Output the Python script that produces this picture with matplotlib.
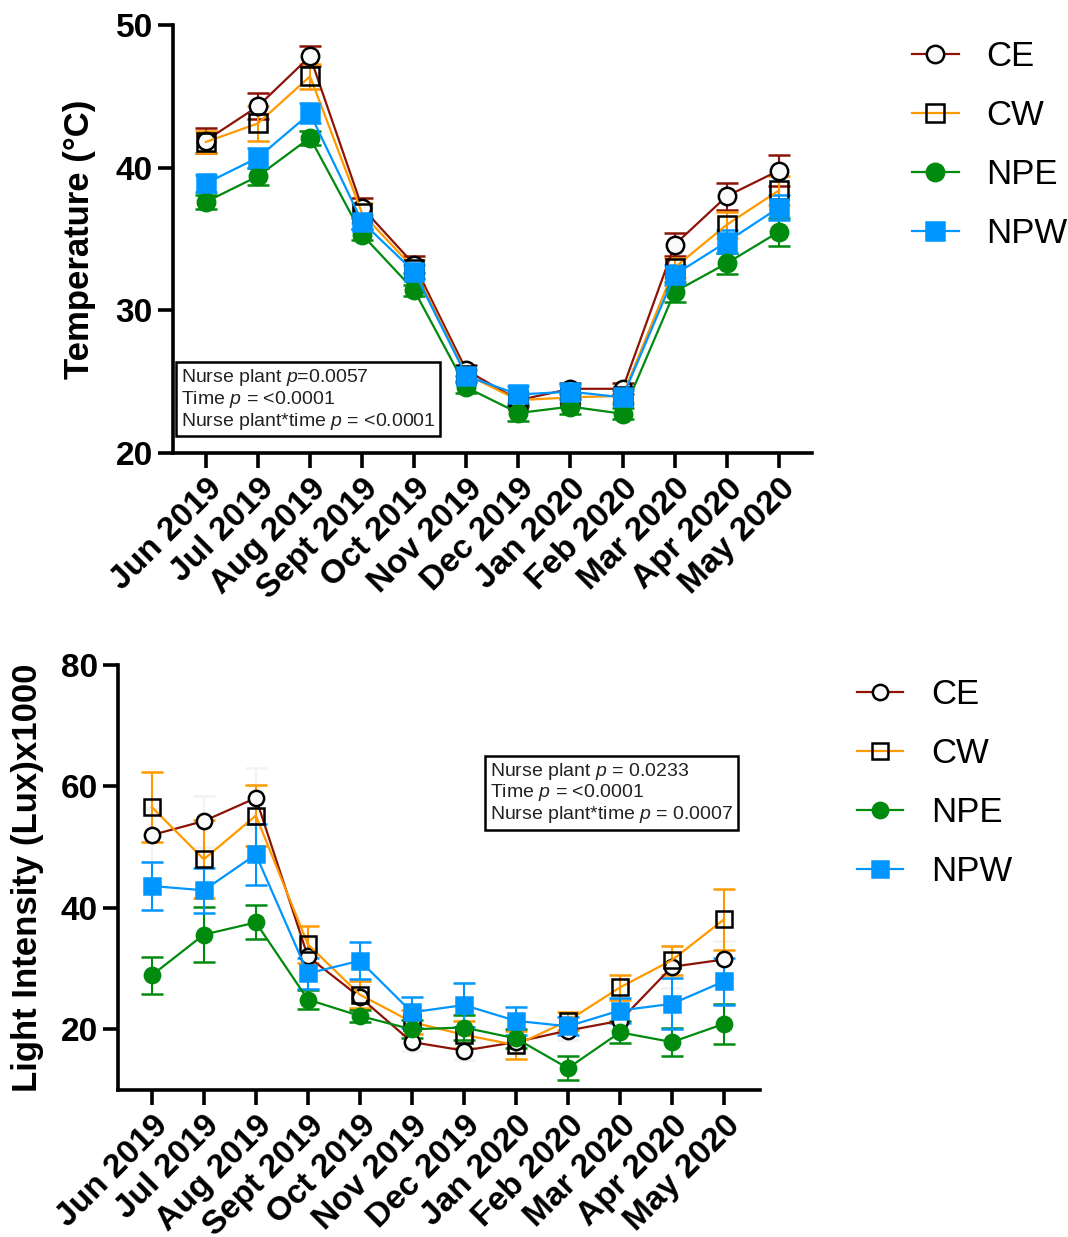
import matplotlib
matplotlib.use('Agg')
import matplotlib.pyplot as plt
import numpy as np

plt.rcParams['font.family'] = ['Liberation Sans', 'DejaVu Sans']
plt.rcParams['mathtext.fontset'] = 'custom'
plt.rcParams['mathtext.rm'] = 'Liberation Sans'
plt.rcParams['mathtext.it'] = 'Liberation Sans:italic'

months = ['Jun 2019', 'Jul 2019', 'Aug 2019', 'Sept 2019', 'Oct 2019', 'Nov 2019',
          'Dec 2019', 'Jan 2020', 'Feb 2020', 'Mar 2020', 'Apr 2020', 'May 2020']
groups = ['CE', 'CW', 'NPE', 'NPW']

# monthly mean temperature (°C) and SEM
temp_ce = [41.9, 44.3, 47.8, 37.2, 33.2, 25.8, 23.7, 24.5, 24.5, 34.6, 38.0, 39.8]
temp_cw = [41.8, 43.1, 46.4, 36.8, 32.9, 25.5, 23.7, 23.9, 24.0, 33.0, 36.0, 38.4]
temp_npe = [37.6, 39.4, 42.1, 35.3, 31.4, 24.6, 22.8, 23.25, 22.75, 31.3, 33.3, 35.5]
temp_npw = [38.9, 40.7, 43.8, 36.2, 32.7, 25.4, 24.1, 24.3, 23.9, 32.5, 34.8, 37.2]
temp_ce_err = [0.9, 0.9, 0.7, 0.7, 0.6, 0.4, 0.4, 0.4, 0.4, 0.8, 0.95, 1.1]
temp_cw_err = [0.8, 1.2, 0.9, 0.7, 0.6, 0.4, 0.5, 0.4, 0.4, 0.7, 0.9, 1.0]
temp_npe_err = [0.5, 0.6, 0.5, 0.4, 0.4, 0.4, 0.55, 0.5, 0.4, 0.7, 0.75, 1.0]
temp_npw_err = [0.6, 0.7, 0.7, 0.5, 0.5, 0.4, 0.6, 0.5, 0.5, 0.7, 0.8, 0.9]

# monthly mean light intensity (Lux x1000) and SEM
lux_ce = [52.0, 54.3, 58.1, 32.0, 25.3, 17.9, 16.5, 17.9, 19.8, 21.4, 30.3, 31.5]
lux_cw = [56.6, 48.0, 55.2, 34.0, 25.7, 21.2, 19.1, 17.4, 21.4, 26.9, 31.4, 38.1]
lux_npe = [28.9, 35.6, 37.6, 24.9, 22.2, 20.0, 20.3, 18.5, 13.6, 19.5, 17.9, 20.9]
lux_npw = [43.6, 42.9, 48.8, 29.2, 31.3, 22.8, 24.0, 21.4, 20.5, 23.1, 24.2, 27.9]
lux_ce_err = [4.5, 4.2, 5.0, 3.0, 2.0, 1.5, 1.5, 1.5, 1.5, 1.5, 3.5, 3.0]
lux_cw_err = [5.8, 6.4, 5.0, 3.0, 2.2, 2.0, 2.2, 2.3, 1.5, 2.1, 2.4, 5.0]
lux_npe_err = [3.0, 4.5, 2.8, 1.5, 1.0, 1.5, 2.0, 1.5, 2.0, 1.8, 2.3, 3.3]
lux_npw_err = [4.0, 3.7, 5.0, 2.5, 3.0, 2.5, 3.6, 2.3, 1.5, 2.0, 4.2, 3.9]

colors = {'CE': '#8c1407', 'CW': '#ff9900', 'NPE': '#008a0e', 'NPW': '#0096ff'}
styles = {
    'CE': dict(marker='o', mfc='#fafafa', mec='black'),
    'CW': dict(marker='s', mfc='none', mec='black'),
    'NPE': dict(marker='o', mfc=colors['NPE'], mec=colors['NPE']),
    'NPW': dict(marker='s', mfc=colors['NPW'], mec=colors['NPW']),
}

x = np.arange(len(months))

fig = plt.figure(figsize=(10.68, 12.37), dpi=100)
ax1 = fig.add_axes([0.162, 0.6338, 0.598, 0.346])
ax2 = fig.add_axes([0.1105, 0.1188, 0.601, 0.3436])


def draw_panel(ax, series, errs, msize, ecolors):
    handles = []
    for g in groups:
        eb = ax.errorbar(x, series[g], yerr=errs[g], color=colors[g], lw=1.6,
                         ecolor=ecolors[g], elinewidth=1.5, capsize=8, capthick=1.5,
                         ms=msize, mew=1.8, **styles[g])
        handles.append(eb.lines[0])
    return handles


def style_axis(ax, ylim, yticks, ylabel, xlim, pad):
    ax.set_xlim(*xlim)
    ax.set_ylim(*ylim)
    ax.set_yticks(yticks)
    ax.set_xticks(x)
    ax.set_xticklabels(months, rotation=45, ha='right', rotation_mode='anchor')
    for s in ['top', 'right']:
        ax.spines[s].set_visible(False)
    for s in ['left', 'bottom']:
        ax.spines[s].set_linewidth(2.6)
    ax.tick_params(width=2.6, length=11, labelsize=24)
    for lab in ax.get_xticklabels() + ax.get_yticklabels():
        lab.set_fontweight('bold')
    ax.set_ylabel(ylabel, fontsize=25, fontweight='bold', labelpad=pad)


def add_legend(handles, anchor):
    fig.legend(handles, groups, loc='upper left', bbox_to_anchor=anchor,
               frameon=False, fontsize=25, handlelength=1.33, handletextpad=0.8,
               labelspacing=0.75)


# temperature panel
h1 = draw_panel(ax1,
                {'CE': temp_ce, 'CW': temp_cw, 'NPE': temp_npe, 'NPW': temp_npw},
                {'CE': temp_ce_err, 'CW': temp_cw_err, 'NPE': temp_npe_err, 'NPW': temp_npw_err},
                12.5, colors)
style_axis(ax1, (20, 50), [20, 30, 40, 50], 'Temperature (°C)', (-0.63, 11.63), 14)
ax1.text(0.012, 0.05,
         'Nurse plant $p$=0.0057\nTime $p$ = <0.0001\nNurse plant*time $p$ = <0.0001',
         transform=ax1.transAxes, fontsize=14, color='#222222', linespacing=1.05,
         va='bottom', ha='left',
         bbox=dict(boxstyle='square,pad=0.25', fc='white', ec='black', lw=1.8))
add_legend(h1, (0.825, 0.9927))

# light intensity panel
light_ecolors = dict(colors)
light_ecolors['CE'] = '#f3f3f3'
h2 = draw_panel(ax2,
                {'CE': lux_ce, 'CW': lux_cw, 'NPE': lux_npe, 'NPW': lux_npw},
                {'CE': lux_ce_err, 'CW': lux_cw_err, 'NPE': lux_npe_err, 'NPW': lux_npw_err},
                11, light_ecolors)
style_axis(ax2, (10, 80), [20, 40, 60, 80], 'Light Intensity (Lux)x1000', (-0.65, 11.69), 12)
ax2.text(0.58, 0.775,
         'Nurse plant $p$ = 0.0233\nTime $p$ = <0.0001\nNurse plant*time $p$ = 0.0007',
         transform=ax2.transAxes, fontsize=14, color='#222222', linespacing=1.05,
         va='top', ha='left',
         bbox=dict(boxstyle='square,pad=0.25', fc='white', ec='black', lw=1.8))
add_legend(h2, (0.773, 0.4774))

fig.savefig('out.png', dpi=100)
